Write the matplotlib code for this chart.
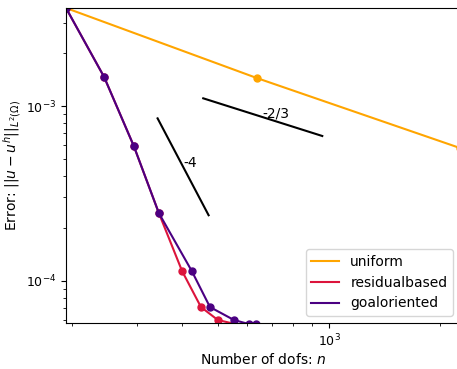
import numpy as np
import matplotlib
matplotlib.use('Agg')
import matplotlib.pyplot as plt

# dofs / L2 errors
uniform_dofs = [193, 637, 2270]
uniform_err = [3.64e-3, 1.446e-3, 5.75e-4]

residual_dofs = [193, 245, 295, 345, 399, 449, 499, 600]
residual_err = [3.64e-3, 1.466e-3, 5.90e-4, 2.44e-4, 1.136e-4, 7.07e-5, 5.96e-5, 5.45e-5]

goal_dofs = [193, 245, 295, 345, 424, 475, 552, 606, 633]
goal_err = [3.64e-3, 1.466e-3, 5.90e-4, 2.44e-4, 1.136e-4, 7.07e-5, 5.96e-5, 5.65e-5, 5.62e-5]

# reference slopes: (x start, x end, y start, slope, label)
slope_refs = [
    (342.3, 471.0, 8.5e-4, -4.0, '-4'),
    (455.4, 959.0, 1.107e-3, -2.0 / 3.0, '-2/3'),
]

fig = plt.figure(figsize=(4.57, 3.69), dpi=100)
ax = fig.add_axes([66 / 457, 46 / 369, 394 / 457, 315 / 369])

series = [
    ('uniform', uniform_dofs, uniform_err, 'orange'),
    ('residualbased', residual_dofs, residual_err, 'crimson'),
    ('goaloriented', goal_dofs, goal_err, 'indigo'),
]
for name, n, err, col in series:
    ax.loglog(n, err, '-', color=col, label=name)
    ax.loglog(n, err, 'o', color=col, markersize=5)

for x0, x1, y0, s, lab in slope_refs:
    xs = np.array([x0, x1])
    ys = y0 * (xs / x0) ** s
    ax.loglog(xs, ys, 'k-')
    xm = np.sqrt(x0 * x1)
    ym = y0 * (xm / x0) ** s
    ax.text(xm, ym, lab)

ax.set_xlim(193, 2270)
ax.set_ylim(5.73e-5, 3.64e-3)
ax.tick_params(labelsize=9)
ax.set_xlabel('Number of dofs: $n$', labelpad=2)
ax.set_ylabel(r'Error: $||u-u^h||_{L^2(\Omega)}$', labelpad=2)
ax.legend(loc='lower right')

fig.savefig('out.png', dpi=100)
